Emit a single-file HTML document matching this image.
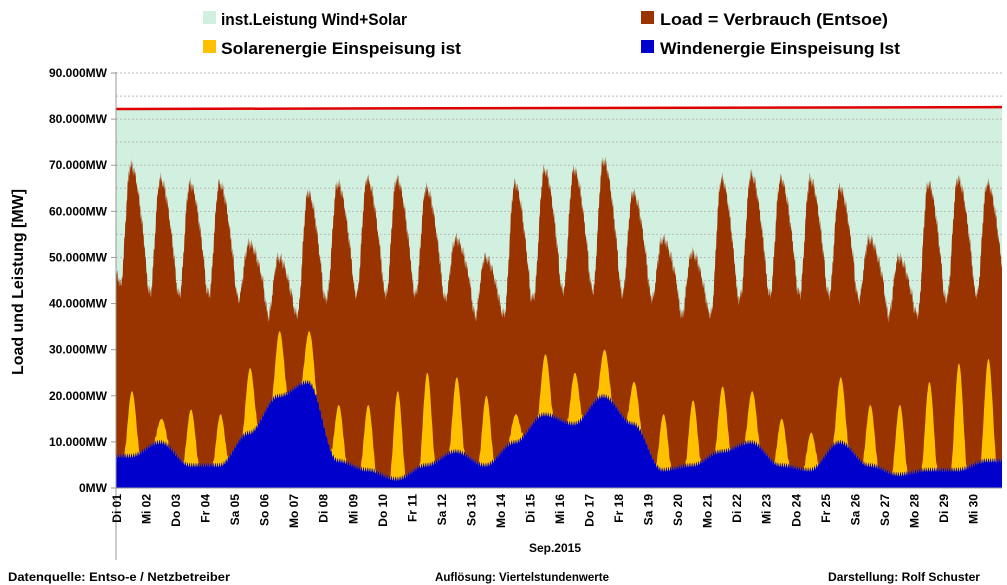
<!DOCTYPE html>
<html><head><meta charset="utf-8"><style>
body{margin:0;background:#fff;}
svg{display:block;font-family:"Liberation Sans",Arial,sans-serif;font-weight:bold;}
</style></head><body>
<svg id="s" width="1007" height="585" xmlns="http://www.w3.org/2000/svg">
<rect x="0" y="0" width="1007" height="585" fill="#fff"/>
<g id="plot"></g>
<g font-size="17" fill="#000">
<rect x="203" y="11" width="13" height="13" fill="#d2f0df"/><text x="221" y="25" textLength="186" lengthAdjust="spacingAndGlyphs">inst.Leistung Wind+Solar</text>
<rect x="641" y="11" width="13" height="13" fill="#993300"/><text x="660" y="25" textLength="228" lengthAdjust="spacingAndGlyphs">Load =  Verbrauch (Entsoe)</text>
<rect x="203" y="40" width="13" height="13" fill="#ffc000"/><text x="221" y="54" textLength="240" lengthAdjust="spacingAndGlyphs">Solarenergie Einspeisung ist</text>
<rect x="641" y="40" width="13" height="13" fill="#0000cc"/><text x="660" y="54" textLength="240" lengthAdjust="spacingAndGlyphs">Windenergie Einspeisung Ist</text>
</g>
<text transform="translate(23,282) rotate(-90)" font-size="16" text-anchor="middle" textLength="186" lengthAdjust="spacingAndGlyphs">Load und Leistung  [MW]</text>
<g id="yl" font-size="12" text-anchor="end"></g>
<g id="xl" font-size="12"></g>
<text x="555" y="552" font-size="12" text-anchor="middle">Sep.2015</text>
<g font-size="12">
<text x="8" y="581" textLength="222" lengthAdjust="spacingAndGlyphs">Datenquelle:  Entso-e  / Netzbetreiber</text>
<text x="435" y="581" textLength="174" lengthAdjust="spacingAndGlyphs">Auflösung:  Viertelstundenwerte</text>
<text x="828" y="581" textLength="152" lengthAdjust="spacingAndGlyphs">Darstellung:  Rolf Schuster</text>
</g>
</svg>
<script>
var X0=116,X1=1002,Y0=488,K=4.611/1000,DW=(X1-X0)/30;
function Y(v){return Y0-v*K;}
var NS="http://www.w3.org/2000/svg";
function el(p,t,a,txt){var e=document.createElementNS(NS,t);for(var k in a)e.setAttribute(k,a[k]);if(txt)e.textContent=txt;p.appendChild(e);return e;}
var g=document.getElementById('plot');
el(g,'path',{d:'M'+X0+','+Y(82200)+' L'+X1+','+Y(82600)+' L'+X1+','+Y0+' L'+X0+','+Y0+'Z',fill:'#d2f0df'});
for(var i=1;i<=18;i++){var y=Y(i*5000);el(g,'line',{x1:X0,x2:X1,y1:y,y2:y,stroke:'#bbb','stroke-dasharray':'2,2','stroke-width':1});}
var lp=[70,67,66,66,53,50,64,66,67,67,65,54,50,66,69,69,71,64,54,51,67,68,67,67,65,54,50,66,67,66];
var sp=[21,15,17,16,26,34,34,18,18,21,25,24,20,16,29,25,30,23,16,19,22,21,15,12,24,18,18,23,27,28];
var wd=[7,10,5,5,12,20,23,6,4,2,5,8,5,10,16,14,20,14,4,5,8,10,5,4,10,5,3,4,4,6];
var nm=[44,42,42,42,41,37,38,42,42,42,42,41,37,38,42,43,43,42,41,37,38,42,42,42,42,41,37,38,42,42,42];
var N=30*96,L=[],S=[],W=[];
function wind(t){var d=t-0.5;if(d<0)d=0;var i=Math.floor(d);if(i>=29)return wd[29];var f=d-i;f=(1-Math.cos(Math.PI*f))/2;return wd[i]*(1-f)+wd[i+1]*f;}
for(var k=0;k<=N;k++){var t=k/96,d=Math.min(29,Math.floor(t)),h=(t-d)*24;
 var lv;
 if(h<4){var pd=d-1;var base=nm[d];var pk=pd>=0?lp[pd]:48;var hh=h+24;var f=Math.pow((1+Math.cos(Math.PI*(hh-12)/16))/2,0.8);var pb=pd>=0?nm[pd]:base;
   var b=pb+(base-pb)*(h/4);lv=b+(pk-pb)*f*(1-h/4);
   if(d==0)lv=47-h*0.8;}
 else if(h<12){var f=(1-Math.cos(Math.PI*(h-4)/8))/2;lv=nm[d]+(lp[d]-nm[d])*Math.pow(f,0.8);}
 else{var f=(1+Math.cos(Math.PI*(h-12)/16))/2;lv=nm[d]+(lp[d]-nm[d])*Math.pow(f,0.7);}
 lv+=1.0*Math.sin(k*1.7)+0.6*Math.sin(k*0.53);
 var w=wind(t)+0.5*Math.sin(k*0.9);
 var ss=Math.sin(Math.PI*(h-6.5)/13);ss=ss>0?Math.pow(ss,1.6):0;
 var s=Math.max(0,sp[d]-w)*ss;
 L.push(lv*1000);W.push(Math.max(0.5,w)*1000);S.push((w+s)*1000);}
function area(A,col){var p='M'+X0+','+Y0;for(var k=0;k<=N;k++)p+=' L'+(X0+k*(X1-X0)/N).toFixed(1)+','+Y(A[k]).toFixed(1);p+=' L'+X1+','+Y0+'Z';el(g,'path',{d:p,fill:col});}
area(L,'#993300');area(S,'#ffc000');area(W,'#0000cc');
el(g,'path',{d:'M'+X0+','+Y(82200)+' L'+X1+','+Y(82600),stroke:'#e00000','stroke-width':2.5,fill:'none'});
el(g,'line',{x1:X0,x2:X0,y1:72,y2:560,stroke:'#999'});
el(g,'line',{x1:X0,x2:X1,y1:Y0,y2:Y0,stroke:'#999'});
var yl=document.getElementById('yl');
for(var i=0;i<=9;i++){var t=i==0?'0MW':(i*10)+'.000MW';el(yl,'text',{x:107,y:Y(i*10000)+4},t);el(g,'line',{x1:111,x2:116,y1:Y(i*10000),y2:Y(i*10000),stroke:'#999'});}
var names=['Di','Mi','Do','Fr','Sa','So','Mo'],xl=document.getElementById('xl');
for(var d=0;d<30;d++){var x=X0+d*DW+5;var lab=names[d%7]+' '+(d+1<10?'0':'')+(d+1);
 el(xl,'text',{transform:'translate('+x.toFixed(1)+',494) rotate(-90)','text-anchor':'end'},lab);}
</script>
</body></html>
